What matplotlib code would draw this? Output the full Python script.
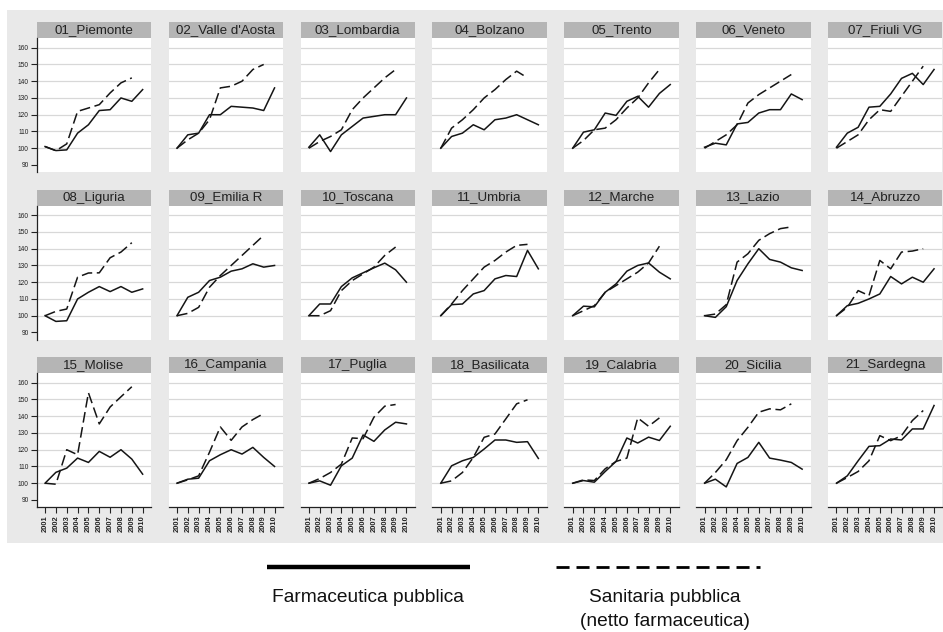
import matplotlib.pyplot as plt
from matplotlib.patches import Rectangle
from matplotlib.lines import Line2D

# Spesa pubblica regionale, indice 2001 = 100
years = list(range(2001, 2011))

regions = [
    "01_Piemonte", "02_Valle d'Aosta", "03_Lombardia", "04_Bolzano", "05_Trento", "06_Veneto", "07_Friuli VG",
    "08_Liguria", "09_Emilia R", "10_Toscana", "11_Umbria", "12_Marche", "13_Lazio", "14_Abruzzo",
    "15_Molise", "16_Campania", "17_Puglia", "18_Basilicata", "19_Calabria", "20_Sicilia", "21_Sardegna",
]

# farmaceutica pubblica, 2001-2010
farmaceutica = [
    [101, 98.6, 99, 109, 114, 122.5, 123, 130, 128, 135],
    [100, 108, 109, 120, 120, 125, 124.5, 124, 122.5, 136],
    [100.6, 108, 98, 108, 113, 118, 119, 120, 120, 130],
    [100, 107, 109, 114, 111, 117, 118, 120, 117, 114],
    [100, 109.6, 111, 121, 119.6, 128, 131, 124.5, 132.7, 138],
    [100.6, 103, 102, 114.5, 115.4, 121, 123, 123, 132.4, 129],
    [100.6, 109, 112.5, 124.5, 125, 132.4, 141.7, 144.7, 138, 147],
    [100, 96.6, 97, 110, 114, 117.4, 114.4, 117.4, 114, 116],
    [100, 111, 114, 121, 123, 126.6, 128, 131, 129, 130],
    [100, 107, 107, 117.4, 122.6, 125.6, 128.6, 131.4, 127.4, 120],
    [100, 106.6, 107, 113, 115, 122, 124, 123.4, 139, 128],
    [100, 105.7, 105.3, 114, 119, 126.6, 130, 131.5, 126, 122],
    [100, 99, 105.4, 121, 131, 140, 133.6, 132, 128.6, 127],
    [100, 106, 107.4, 110, 113, 123.4, 119, 123, 120, 128],
    [100, 106.5, 109, 115, 112.4, 119, 115.5, 120, 114.4, 105.4],
    [100, 102.4, 103, 113.4, 117, 120, 117.4, 121.4, 115.4, 110],
    [100, 101.4, 98.8, 110.4, 115, 128.8, 125, 131.8, 136.4, 135.4],
    [100, 110.4, 113.4, 115.4, 120.4, 125.8, 125.8, 124.4, 124.8, 114.8],
    [100, 101.6, 100.6, 107, 113, 127, 124, 127.5, 125.5, 134],
    [100, 102.4, 97.8, 111.8, 115.4, 124.4, 115, 113.8, 112.4, 108.4],
    [100, 104.4, 113.4, 122, 122.4, 126.4, 125.8, 132.4, 132.4, 146.4],
]

# sanitaria pubblica al netto della farmaceutica, 2001-2009
sanitaria = [
    [101, 98.5, 102.6, 122, 124, 126, 133, 139, 142],
    [100, 105, 109, 117, 136, 137, 140, 147, 150],
    [100, 104, 107, 111, 123, 130, 136, 142, 147],
    [100, 112, 117, 123, 130, 135, 141, 146, 142],
    [100, 104.6, 111, 112, 117, 124, 130, 139, 147],
    [100, 104, 108, 114, 127, 132, 136, 140, 144],
    [100, 104, 108, 117, 123, 122, 131, 140, 149],
    [100, 102.6, 104, 123, 125.5, 125.6, 134.6, 138, 143.6],
    [100, 101.4, 105, 117, 124, 130, 136, 142, 148],
    [100, 100, 103, 115, 121, 125, 129, 136, 141],
    [100, 107, 115, 122, 129, 133, 138, 142, 142.6],
    [100, 103, 106, 114, 118, 122, 126, 131.5, 141.5],
    [100, 101, 106.6, 132, 137, 145, 149, 152, 153],
    [100, 105, 115, 112, 133, 128, 138, 138.6, 140],
    [100, 99.4, 120, 117, 154, 135.4, 145.5, 151.6, 157.6],
    [100, 102, 104.4, 118.5, 133.6, 125.6, 133.6, 138, 141.6],
    [100, 102.8, 106.4, 111.4, 127, 126.6, 139.4, 146, 147],
    [100, 101.4, 106.4, 115.4, 127.4, 129.4, 138.4, 147.4, 149.8],
    [100, 102, 101.6, 108.6, 113, 115, 139, 134, 139],
    [100, 106.4, 114, 125.4, 133.4, 142.4, 144.4, 143.8, 147.4],
    [100, 103.4, 107, 113.4, 128.4, 125.4, 128.4, 137.4, 143.4],
]

yticks = [90, 100, 110, 120, 130, 140, 150, 160]

W, H = 943, 632
fig = plt.figure(figsize=(W / 100, H / 100), dpi=100)
fig.patch.set_facecolor("white")


def fx(px):
    return px / W


def fy(py):
    return 1 - py / H


# fondo grigio dietro ai pannelli
fig.patches.append(Rectangle((fx(7), fy(543)), (W - 7) / W, (543 - 10) / H,
                             transform=fig.transFigure, facecolor="#e9e9e9",
                             edgecolor="none", zorder=-10))

ncols = 7
pw, ph = 114.3, 134.0
strip = 16.0
line_col = "#151515"

for i, name in enumerate(regions):
    r, c = divmod(i, ncols)
    left = 36.7 + c * 131.9
    top = 38.0 + r * 167.5
    ax = fig.add_axes([fx(left), fy(top + ph), pw / W, ph / H])
    ax.set_facecolor("white")
    ax.set_xlim(2000.23, 2010.77)
    ax.set_ylim(85.8, 165.8)

    for g in range(100, 161, 10):
        ax.axhline(g, color="#d8d8d8", lw=0.9, zorder=1)

    ax.plot(years, farmaceutica[i], color=line_col, lw=1.1, zorder=3)
    ax.plot(years[:len(sanitaria[i])], sanitaria[i], color=line_col, lw=1.1,
            dashes=(7, 3), zorder=3)

    # striscia del titolo
    ax.add_patch(Rectangle((0, 1), 1, strip / ph, transform=ax.transAxes,
                           facecolor="#b5b5b5", edgecolor="none", clip_on=False))
    ax.text(0.5, 1 + strip / ph / 2, name, transform=ax.transAxes, ha="center",
            va="center", fontsize=9.6, family="Liberation Sans", color="#222222")

    for s in ax.spines.values():
        s.set_visible(False)

    if c == 0:
        ax.spines["left"].set_visible(True)
        ax.spines["left"].set_color("#222222")
        ax.spines["left"].set_linewidth(0.9)
        ax.set_yticks(yticks)
        ax.set_yticklabels([str(v) for v in yticks], fontsize=4.8,
                           family="Liberation Sans")
        ax.tick_params(axis="y", length=4.3, width=0.8, pad=1.5, colors="#222222")
    else:
        ax.set_yticks([])

    if r == 2:
        ax.spines["bottom"].set_visible(True)
        ax.spines["bottom"].set_color("#222222")
        ax.spines["bottom"].set_linewidth(0.9)
        ax.set_xticks(years)
        ax.set_xticklabels([str(y) for y in years], rotation=90, fontsize=5.4,
                           family="Liberation Sans", fontweight="bold")
        ax.tick_params(axis="x", length=4.3, width=0.8, pad=1.5, colors="#222222")
    else:
        ax.set_xticks([])

# legenda in basso
fig.add_artist(Line2D([fx(267), fx(470)], [fy(567), fy(567)], lw=3.2,
                      color="black", solid_capstyle="butt"))
fig.add_artist(Line2D([fx(556), fx(760)], [fy(567), fy(567)], lw=2.0,
                      color="black", dashes=(4.7, 2.5), dash_capstyle="butt"))

leg_font = "Liberation Sans"
fig.text(fx(368), fy(598), "Farmaceutica pubblica", ha="center", va="center",
         fontsize=13.8, family=leg_font, color="#111111")
fig.text(fx(665), fy(598), "Sanitaria pubblica", ha="center", va="center",
         fontsize=13.8, family=leg_font, color="#111111")
fig.text(fx(665), fy(621), "(netto farmaceutica)", ha="center", va="center",
         fontsize=13.8, family=leg_font, color="#111111")

fig.savefig("out.png", dpi=100)
